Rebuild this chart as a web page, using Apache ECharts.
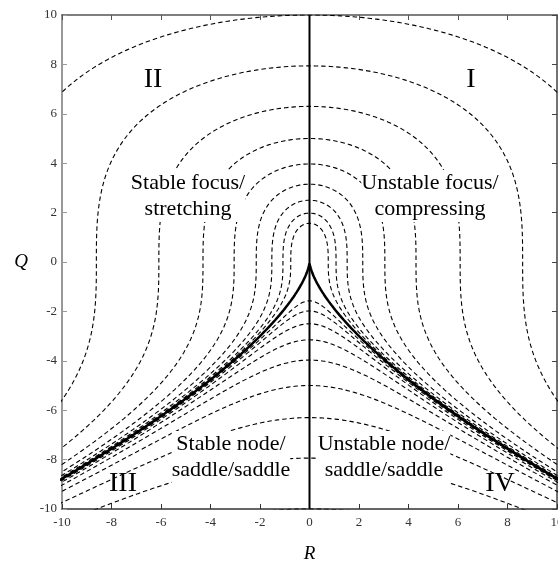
<!DOCTYPE html>
<html><head><meta charset="utf-8">
<script src="https://cdn.jsdelivr.net/npm/echarts@6/dist/echarts.min.js"></script>
<style>html,body{margin:0;padding:0;background:#fff}#c{width:558px;height:565px}</style>
</head><body><div id="c"></div>
<script>
// Axis ticks
const rTicks = [-10, -8, -6, -4, -2, 0, 2, 4, 6, 8, 10];
const qTicks = [-10, -8, -6, -4, -2, 0, 2, 4, 6, 8, 10];
// Q-intercepts (at R = 0) of the dashed iso-lines of Q^3 + 27/4 R^2
const upperIntercepts = [10, 7.94, 6.3, 5.0, 3.97, 3.15, 2.5, 1.98, 1.57];
const lowerIntercepts = [-1.57, -1.98, -2.5, -3.15, -3.97, -5.0, -6.3, -7.94, -10];
// Discriminant curve (solid) has intercept 0
const boundaryIntercept = 0;
// Vertical R = 0 line
const axisLineR = [0, 0];
const axisLineQ = [-10, 10];
// Region texts
const regionNames = ['I', 'II', 'III', 'IV'];
const regionTypes = ['Unstable focus/\ncompressing', 'Stable focus/\nstretching', 'Stable node/\nsaddle/saddle', 'Unstable node/\nsaddle/saddle'];

// level curve Q^3 + 27/4 R^2 = Q0^3, traced through the library's value axes
function levelCurve(Q0) {
  const pts = [];
  const N = 300;
  const c = Q0 * Q0 * Q0;
  for (let i = -N; i <= N; i++) {
    const t = i / N;
    const Q = Q0 - (Q0 + 12) * t * t;
    const R = Math.sign(t) * Math.sqrt(Math.max(0, (c - Q * Q * Q) / 6.75));
    pts.push([R, Q]);
  }
  return pts;
}

const serif = '"Liberation Serif", "DejaVu Serif", serif';
const series = [];
upperIntercepts.concat(lowerIntercepts).forEach(q0 => {
  series.push({
    type: 'line', data: levelCurve(q0), showSymbol: false, silent: true, clip: true,
    lineStyle: { color: '#000', width: 1.1, type: [4.5, 3] }, z: 2
  });
});
series.push({
  type: 'line', data: levelCurve(boundaryIntercept), showSymbol: false, silent: true, clip: true,
  lineStyle: { color: '#000', width: 2.5 }, z: 3
});
series.push({
  type: 'line', data: axisLineR.map((r, i) => [r, axisLineQ[i]]), showSymbol: false, silent: true, clip: true,
  lineStyle: { color: '#000', width: 2 }, z: 3
});

const textPos = {
  'I': [471, 80], 'II': [153, 80], 'III': [123, 484], 'IV': [500, 484]
};
const typePos = [[430, 196], [188, 196], [231, 457], [384, 457]];
const graphic = [];
regionNames.forEach(n => {
  graphic.push({ type: 'text', x: textPos[n][0], y: textPos[n][1], z: 100,
    style: { text: n, font: '28px ' + serif, fill: '#000', align: 'center', verticalAlign: 'middle' } });
});
regionTypes.forEach((t, i) => {
  graphic.push({ type: 'text', x: typePos[i][0], y: typePos[i][1], z: 100,
    style: { text: t, font: '22px ' + serif, fill: '#000', align: 'center', verticalAlign: 'middle',
      lineHeight: 26, backgroundColor: '#fff' } });
});

const axisBase = {
  type: 'value', min: -10, max: 10, interval: 2, splitLine: { show: false }
};
const option = {
  animation: false,
  backgroundColor: '#fff',
  grid: { left: 62, right: 1, top: 15, bottom: 56, containLabel: false, outerBoundsMode: 'none' },
  xAxis: [
    Object.assign({}, axisBase, {
      position: 'bottom',
      name: 'R', nameLocation: 'middle', nameGap: 35,
      nameTextStyle: { fontFamily: serif, fontStyle: 'italic', fontSize: 19, color: '#000' },
      axisLine: { onZero: false, lineStyle: { color: '#333', width: 1.5 } },
      axisTick: { inside: true, length: 5, lineStyle: { color: '#333' } },
      axisLabel: { fontFamily: serif, fontSize: 13, color: '#333', margin: 7,
        formatter: v => rTicks.includes(v) ? String(v) : '' }
    }),
    Object.assign({}, axisBase, {
      position: 'top',
      axisLine: { onZero: false, lineStyle: { color: '#555', width: 1.5 } },
      axisTick: { inside: true, length: 5, lineStyle: { color: '#555' } },
      axisLabel: { show: false }
    })
  ],
  yAxis: [
    Object.assign({}, axisBase, {
      position: 'left',
      name: 'Q', nameLocation: 'middle', nameGap: 34, nameRotate: 0,
      nameTextStyle: { fontFamily: serif, fontStyle: 'italic', fontSize: 19, color: '#000' },
      axisLine: { onZero: false, lineStyle: { color: '#999', width: 2 } },
      axisTick: { inside: true, length: 5, lineStyle: { color: '#999' } },
      axisLabel: { fontFamily: serif, fontSize: 13, color: '#333', margin: 5,
        formatter: v => qTicks.includes(v) ? String(v) : '' }
    }),
    Object.assign({}, axisBase, {
      position: 'right',
      axisLine: { onZero: false, lineStyle: { color: '#444', width: 1.5 } },
      axisTick: { inside: true, length: 5, lineStyle: { color: '#444' } },
      axisLabel: { show: false }
    })
  ],
  series: series,
  graphic: graphic
};
const chart = echarts.init(document.getElementById('c'), null, { renderer: 'canvas' });
chart.setOption(option);
</script>
</body></html>
